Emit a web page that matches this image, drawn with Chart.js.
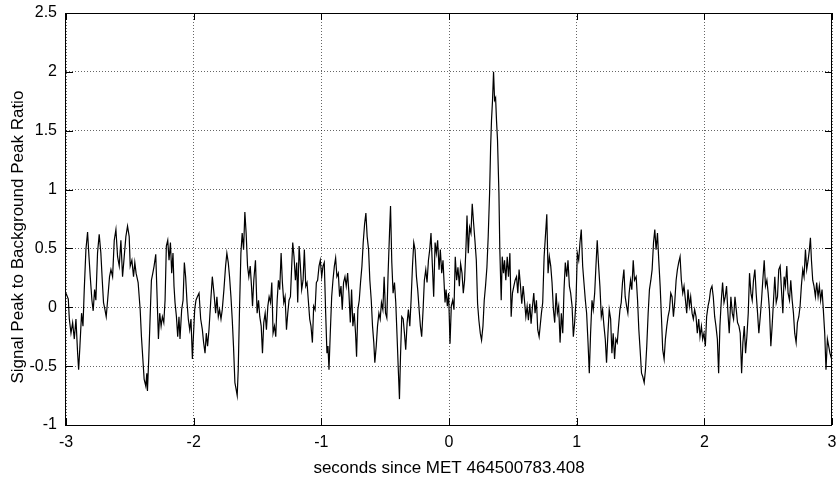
<!DOCTYPE html>
<html>
<head>
<meta charset="utf-8">
<script src="https://cdn.jsdelivr.net/npm/chart.js@4/dist/chart.umd.min.js"></script>
<style>
  body { margin: 0; background: #fff; }
  canvas { display: block; }
</style>
</head>
<body>
<canvas id="myChart" width="838" height="485"></canvas>
<script>
const seconds = [
  -3.000, -2.982, -2.974, -2.961, -2.948, -2.935, -2.922, -2.909, -2.901, -2.891, -2.878, -2.867,
  -2.857, -2.844, -2.831, -2.820, -2.810, -2.797, -2.787, -2.776, -2.766, -2.753, -2.740, -2.727,
  -2.716, -2.706, -2.695, -2.685, -2.674, -2.659, -2.648, -2.635, -2.622, -2.609, -2.596, -2.583,
  -2.570, -2.557, -2.544, -2.531, -2.518, -2.505, -2.497, -2.484, -2.471, -2.461, -2.451, -2.435,
  -2.419, -2.409, -2.398, -2.388, -2.375, -2.367, -2.362, -2.352, -2.341, -2.331, -2.320, -2.310,
  -2.297, -2.276, -2.266, -2.255, -2.245, -2.234, -2.224, -2.214, -2.203, -2.193, -2.182, -2.172,
  -2.162, -2.154, -2.146, -2.135, -2.125, -2.115, -2.107, -2.094, -2.083, -2.073, -2.063, -2.052,
  -2.042, -2.031, -2.021, -2.010, -2.003, -1.992, -1.982, -1.971, -1.958, -1.945, -1.932, -1.922,
  -1.911, -1.901, -1.891, -1.880, -1.867, -1.854, -1.841, -1.828, -1.818, -1.807, -1.797, -1.786,
  -1.776, -1.763, -1.750, -1.740, -1.729, -1.719, -1.708, -1.698, -1.688, -1.677, -1.667, -1.659,
  -1.651, -1.641, -1.630, -1.620, -1.609, -1.599, -1.589, -1.578, -1.568, -1.557, -1.547, -1.539,
  -1.529, -1.516, -1.503, -1.492, -1.482, -1.471, -1.461, -1.451, -1.440, -1.430, -1.419, -1.409,
  -1.398, -1.388, -1.378, -1.367, -1.357, -1.346, -1.336, -1.326, -1.315, -1.305, -1.294, -1.284,
  -1.273, -1.263, -1.253, -1.242, -1.232, -1.224, -1.214, -1.203, -1.193, -1.185, -1.174, -1.164,
  -1.154, -1.143, -1.133, -1.122, -1.112, -1.102, -1.091, -1.081, -1.070, -1.060, -1.049, -1.039,
  -1.029, -1.018, -1.008, -0.997, -0.987, -0.977, -0.966, -0.956, -0.948, -0.940, -0.930, -0.919,
  -0.909, -0.898, -0.888, -0.878, -0.867, -0.857, -0.846, -0.836, -0.826, -0.815, -0.805, -0.794,
  -0.784, -0.773, -0.763, -0.753, -0.742, -0.732, -0.724, -0.714, -0.703, -0.693, -0.682, -0.672,
  -0.661, -0.651, -0.641, -0.630, -0.620, -0.609, -0.599, -0.589, -0.581, -0.570, -0.560, -0.549,
  -0.539, -0.529, -0.518, -0.508, -0.497, -0.487, -0.477, -0.466, -0.458, -0.448, -0.438, -0.427,
  -0.417, -0.406, -0.396, -0.388, -0.380, -0.370, -0.359, -0.349, -0.339, -0.328, -0.318, -0.307,
  -0.297, -0.286, -0.276, -0.266, -0.255, -0.245, -0.234, -0.224, -0.214, -0.203, -0.193, -0.182,
  -0.172, -0.161, -0.151, -0.141, -0.130, -0.120, -0.109, -0.099, -0.089, -0.078, -0.068, -0.057,
  -0.047, -0.031, -0.023, -0.013, -0.003, 0.008, 0.018, 0.029, 0.039, 0.049, 0.060, 0.070,
  0.081, 0.091, 0.102, 0.112, 0.122, 0.133, 0.141, 0.151, 0.161, 0.172, 0.182, 0.193,
  0.203, 0.214, 0.224, 0.234, 0.245, 0.255, 0.266, 0.276, 0.286, 0.297, 0.307, 0.318,
  0.326, 0.333, 0.341, 0.349, 0.357, 0.365, 0.372, 0.380, 0.391, 0.398, 0.409, 0.417,
  0.427, 0.435, 0.445, 0.456, 0.466, 0.477, 0.487, 0.497, 0.508, 0.518, 0.529, 0.539,
  0.549, 0.560, 0.570, 0.581, 0.591, 0.602, 0.612, 0.622, 0.633, 0.643, 0.654, 0.664,
  0.674, 0.685, 0.695, 0.706, 0.714, 0.724, 0.734, 0.745, 0.755, 0.766, 0.776, 0.786,
  0.797, 0.807, 0.818, 0.828, 0.839, 0.849, 0.859, 0.870, 0.880, 0.891, 0.901, 0.911,
  0.922, 0.932, 0.943, 0.953, 0.964, 0.974, 0.984, 0.995, 1.005, 1.016, 1.026, 1.036,
  1.047, 1.057, 1.068, 1.078, 1.089, 1.099, 1.109, 1.120, 1.130, 1.141, 1.151, 1.161,
  1.172, 1.182, 1.193, 1.203, 1.214, 1.224, 1.234, 1.245, 1.255, 1.266, 1.276, 1.286,
  1.297, 1.307, 1.318, 1.328, 1.339, 1.349, 1.359, 1.370, 1.380, 1.391, 1.401, 1.411,
  1.422, 1.432, 1.443, 1.453, 1.466, 1.477, 1.487, 1.497, 1.508, 1.518, 1.529, 1.539,
  1.549, 1.560, 1.570, 1.581, 1.591, 1.602, 1.612, 1.622, 1.633, 1.643, 1.654, 1.664,
  1.674, 1.685, 1.695, 1.706, 1.716, 1.727, 1.737, 1.747, 1.758, 1.768, 1.779, 1.789,
  1.799, 1.810, 1.820, 1.831, 1.841, 1.852, 1.862, 1.872, 1.883, 1.893, 1.904, 1.914,
  1.924, 1.935, 1.945, 1.956, 1.966, 1.977, 1.987, 1.997, 2.008, 2.018, 2.029, 2.039,
  2.049, 2.060, 2.070, 2.081, 2.091, 2.102, 2.112, 2.122, 2.133, 2.143, 2.154, 2.164,
  2.174, 2.185, 2.195, 2.208, 2.219, 2.229, 2.240, 2.250, 2.260, 2.271, 2.281, 2.292,
  2.302, 2.313, 2.323, 2.333, 2.344, 2.354, 2.365, 2.375, 2.385, 2.396, 2.406, 2.417,
  2.427, 2.438, 2.448, 2.458, 2.469, 2.479, 2.490, 2.500, 2.510, 2.521, 2.531, 2.542,
  2.552, 2.563, 2.573, 2.583, 2.594, 2.604, 2.615, 2.625, 2.635, 2.646, 2.656, 2.667,
  2.677, 2.688, 2.698, 2.708, 2.719, 2.729, 2.740, 2.750, 2.760, 2.771, 2.781, 2.792,
  2.802, 2.813, 2.823, 2.831, 2.839, 2.849, 2.859, 2.870, 2.880, 2.891, 2.901, 2.911,
  2.922, 2.932, 2.943, 2.953, 2.964, 2.974, 2.984, 3.000
];

const ratio = [
  0.12, 0.07, -0.10, -0.22, -0.13, -0.27, -0.10, -0.39, -0.53, -0.33, -0.05, -0.16,
  0.15, 0.49, 0.64, 0.43, 0.26, 0.06, -0.03, 0.15, 0.06, 0.46, 0.62, 0.46,
  0.23, 0.04, -0.02, -0.08, 0.06, 0.26, 0.32, 0.26, 0.57, 0.66, 0.43, 0.35,
  0.57, 0.26, 0.43, 0.60, 0.69, 0.60, 0.35, 0.40, 0.26, 0.38, 0.29, 0.21,
  -0.02, -0.25, -0.44, -0.61, -0.67, -0.56, -0.71, -0.44, -0.08, 0.23, 0.29, 0.35,
  0.45, -0.27, -0.05, -0.16, -0.08, -0.13, 0.06, 0.52, 0.57, 0.40, 0.55, 0.29,
  0.46, 0.18, 0.04, -0.08, -0.25, -0.08, -0.27, -0.02, 0.06, 0.38, 0.26, 0.04,
  -0.10, -0.19, -0.10, -0.44, -0.27, -0.02, 0.06, 0.09, 0.12, -0.10, -0.19, -0.30,
  -0.39, -0.22, -0.33, -0.19, 0.04, 0.26, 0.12, -0.05, 0.09, -0.08, -0.02, -0.10,
  -0.02, 0.15, 0.35, 0.46, 0.38, 0.26, 0.09, -0.10, -0.33, -0.64, -0.70, -0.75,
  -0.53, -0.02, 0.46, 0.63, 0.49, 0.81, 0.63, 0.35, 0.26, 0.35, 0.18, 0.01,
  0.23, 0.40, -0.05, 0.06, -0.08, -0.16, -0.39, -0.13, -0.05, -0.19, 0.01, 0.09,
  0.04, 0.21, -0.22, -0.16, -0.25, 0.06, 0.23, 0.15, 0.46, 0.21, 0.04, 0.09,
  -0.19, -0.05, 0.06, 0.09, 0.35, 0.55, 0.43, 0.23, 0.38, 0.04, 0.52, 0.35,
  0.15, 0.23, 0.49, 0.18, 0.21, 0.06, -0.10, -0.16, -0.30, 0.01, -0.02, 0.21,
  0.23, 0.35, 0.40, 0.26, 0.35, 0.38, -0.05, -0.39, -0.33, -0.53, -0.22, 0.09,
  0.23, 0.35, 0.42, 0.26, 0.29, 0.09, 0.18, -0.02, 0.21, 0.26, 0.18, 0.29,
  0.12, -0.13, 0.15, -0.16, -0.05, -0.22, -0.42, -0.02, 0.06, 0.21, 0.35, 0.55,
  0.71, 0.80, 0.60, 0.49, 0.23, 0.06, -0.16, -0.30, -0.47, -0.33, -0.16, -0.05,
  -0.10, 0.04, -0.02, 0.26, -0.05, -0.09, 0.29, 0.63, 0.86, 0.38, 0.12, 0.21,
  0.04, -0.27, -0.56, -0.78, -0.42, -0.08, -0.10, -0.22, -0.36, -0.13, -0.02, -0.16,
  0.06, 0.35, 0.55, 0.49, 0.26, 0.15, -0.02, -0.16, -0.25, -0.02, 0.23, 0.32,
  0.21, 0.40, 0.49, 0.63, 0.35, 0.09, 0.55, 0.46, 0.57, 0.32, 0.49, 0.29,
  0.40, 0.04, 0.15, 0.01, 0.12, -0.31, 0.01, 0.06, -0.02, 0.43, 0.23, 0.34,
  0.18, 0.37, 0.29, 0.12, 0.23, 0.51, 0.78, 0.46, 0.68, 0.63, 0.88, 0.71,
  0.57, 0.40, 0.03, -0.11, -0.22, -0.28, -0.16, 0.06, 0.18, 0.34, 0.60, 0.97,
  1.36, 1.59, 1.76, 2.00, 1.76, 1.78, 1.59, 1.42, 0.97, 0.49, 0.06, 0.43,
  0.29, 0.40, 0.23, 0.43, 0.26, 0.46, -0.08, 0.12, 0.18, 0.23, 0.26, 0.12,
  0.32, 0.18, 0.03, 0.18, 0.06, -0.08, 0.01, -0.11, 0.03, -0.14, 0.01, 0.12,
  -0.05, 0.06, -0.19, -0.25, -0.16, -0.05, 0.04, 0.43, 0.60, 0.79, 0.29, 0.43,
  0.35, 0.21, -0.02, -0.13, 0.12, -0.05, 0.01, -0.30, -0.05, -0.22, 0.15, 0.38,
  0.26, 0.40, 0.18, 0.12, 0.01, -0.25, -0.13, 0.06, 0.46, 0.40, 0.55, 0.66,
  0.35, 0.21, 0.06, -0.05, -0.30, -0.56, -0.22, 0.06, -0.02, 0.12, 0.35, 0.57,
  0.35, 0.18, -0.08, -0.02, -0.16, -0.27, -0.47, -0.22, -0.02, -0.10, -0.39, -0.22,
  -0.44, -0.27, -0.30, -0.16, -0.02, 0.04, 0.21, 0.32, 0.09, 0.01, -0.05, 0.12,
  0.23, 0.15, 0.40, 0.23, 0.26, 0.06, -0.19, -0.36, -0.56, -0.59, -0.64, -0.53,
  -0.33, -0.05, 0.15, 0.23, 0.32, 0.55, 0.66, 0.49, 0.63, 0.40, 0.18, -0.08,
  -0.36, -0.44, -0.27, -0.16, -0.08, -0.02, 0.12, 0.09, -0.08, 0.04, 0.23, 0.32,
  0.38, 0.43, 0.23, 0.12, 0.18, 0.06, -0.05, 0.15, 0.01, 0.09, -0.05, -0.10,
  -0.02, -0.08, -0.22, -0.10, -0.25, -0.16, -0.27, -0.22, -0.33, -0.08, 0.01, 0.06,
  0.15, 0.18, 0.09, -0.08, -0.16, -0.27, -0.56, -0.16, 0.06, 0.21, 0.04, 0.09,
  0.18, -0.05, -0.22, 0.09, -0.05, -0.10, 0.09, -0.02, -0.13, -0.16, -0.22, -0.56,
  -0.30, -0.16, -0.39, -0.25, -0.05, 0.29, 0.12, 0.06, 0.23, 0.32, 0.12, -0.05,
  -0.22, -0.08, 0.06, 0.23, 0.40, 0.18, 0.23, 0.12, -0.02, -0.33, -0.16, 0.06,
  0.26, 0.04, 0.09, 0.32, 0.35, 0.15, -0.05, 0.26, 0.18, 0.35, 0.12, 0.06,
  0.23, 0.06, -0.05, -0.22, -0.30, -0.13, -0.08, 0.01, 0.18, 0.32, 0.26, 0.49,
  0.32, 0.40, 0.49, 0.59, 0.40, 0.23, 0.18, 0.09, 0.21, 0.09, 0.18, 0.06,
  0.15, -0.02, -0.22, -0.53, -0.27, -0.33, -0.39, -0.45
];

const xTitle = 'seconds since MET 464500783.408';
const yTitle = 'Signal Peak to Background Peak Ratio';

const font = 'Liberation Sans, Arial, Helvetica, sans-serif';

// gnuplot style: solid frame on all four sides with tics pointing inwards,
// and the y label sitting a bit below the middle of the plot
const frame = {
    id: 'frame',
    afterDatasetsDraw(chart) {
        const ctx = chart.ctx;
        const a = chart.chartArea;
        const xs = chart.scales.x;
        const ys = chart.scales.y;
        const tic = 7;
        ctx.save();
        ctx.strokeStyle = '#000';
        ctx.lineWidth = 1;
        ctx.beginPath();
        xs.ticks.forEach(t => {
            let px = Math.round(xs.getPixelForValue(t.value)) + 0.5;
            ctx.moveTo(px, a.bottom); ctx.lineTo(px, a.bottom - tic);
            ctx.moveTo(px, a.top); ctx.lineTo(px, a.top + tic);
        });
        ys.ticks.forEach(t => {
            let py = Math.round(ys.getPixelForValue(t.value)) + 0.5;
            ctx.moveTo(a.left, py); ctx.lineTo(a.left + tic, py);
            ctx.moveTo(a.right, py); ctx.lineTo(a.right - tic, py);
        });
        ctx.stroke();
        ctx.strokeRect(Math.round(a.left) - 0.5, Math.round(a.top) + 0.5,
            Math.round(a.right - a.left), Math.round(a.bottom - a.top));

        ctx.translate(23, a.top + (a.bottom - a.top) * 0.544);
        ctx.rotate(-Math.PI / 2);
        ctx.fillStyle = '#000';
        ctx.font = '17px ' + font;
        ctx.textAlign = 'center';
        ctx.textBaseline = 'alphabetic';
        ctx.fillText(yTitle, 0, 0);
        ctx.restore();
    }
};

const gridStyle = {
    color: 'rgba(0,0,0,0.6)',
    lineWidth: 1,
    drawTicks: true,
    tickColor: 'rgba(0,0,0,0)'
};

const ctx = document.getElementById('myChart').getContext('2d');
const myChart = new Chart(ctx, {
    type: 'line',
    data: {
        datasets: [{
            data: seconds.map((s, i) => ({ x: s, y: ratio[i] })),
            borderColor: '#000',
            borderWidth: 1.2,
            pointRadius: 0,
            tension: 0,
            fill: false
        }]
    },
    options: {
        responsive: false,
        animation: false,
        events: [],
        layout: { padding: { top: 13, right: 6, left: 0, bottom: 0 } },
        plugins: {
            legend: { display: false },
            tooltip: { enabled: false }
        },
        scales: {
            x: {
                type: 'linear',
                min: -3,
                max: 3,
                ticks: { stepSize: 1, color: '#000', padding: 0, font: { family: font, size: 16 },
                    callback: v => String(v) },
                grid: Object.assign({ tickLength: 8 }, gridStyle),
                border: { display: false, dash: [1, 2] },
                title: { display: true, text: xTitle, color: '#000',
                    font: { family: font, size: 17 }, padding: { top: 0, bottom: 6 } },
                afterFit: s => { s.height = 60; }
            },
            y: {
                min: -1,
                max: 2.5,
                ticks: { stepSize: 0.5, color: '#000', padding: 0, font: { family: font, size: 16 },
                    callback: v => String(v) },
                grid: Object.assign({ tickLength: 9 }, gridStyle),
                border: { display: false, dash: [1, 2] },
                afterFit: s => { s.width = 66; }
            }
        }
    },
    plugins: [frame]
});
</script>
</body>
</html>
